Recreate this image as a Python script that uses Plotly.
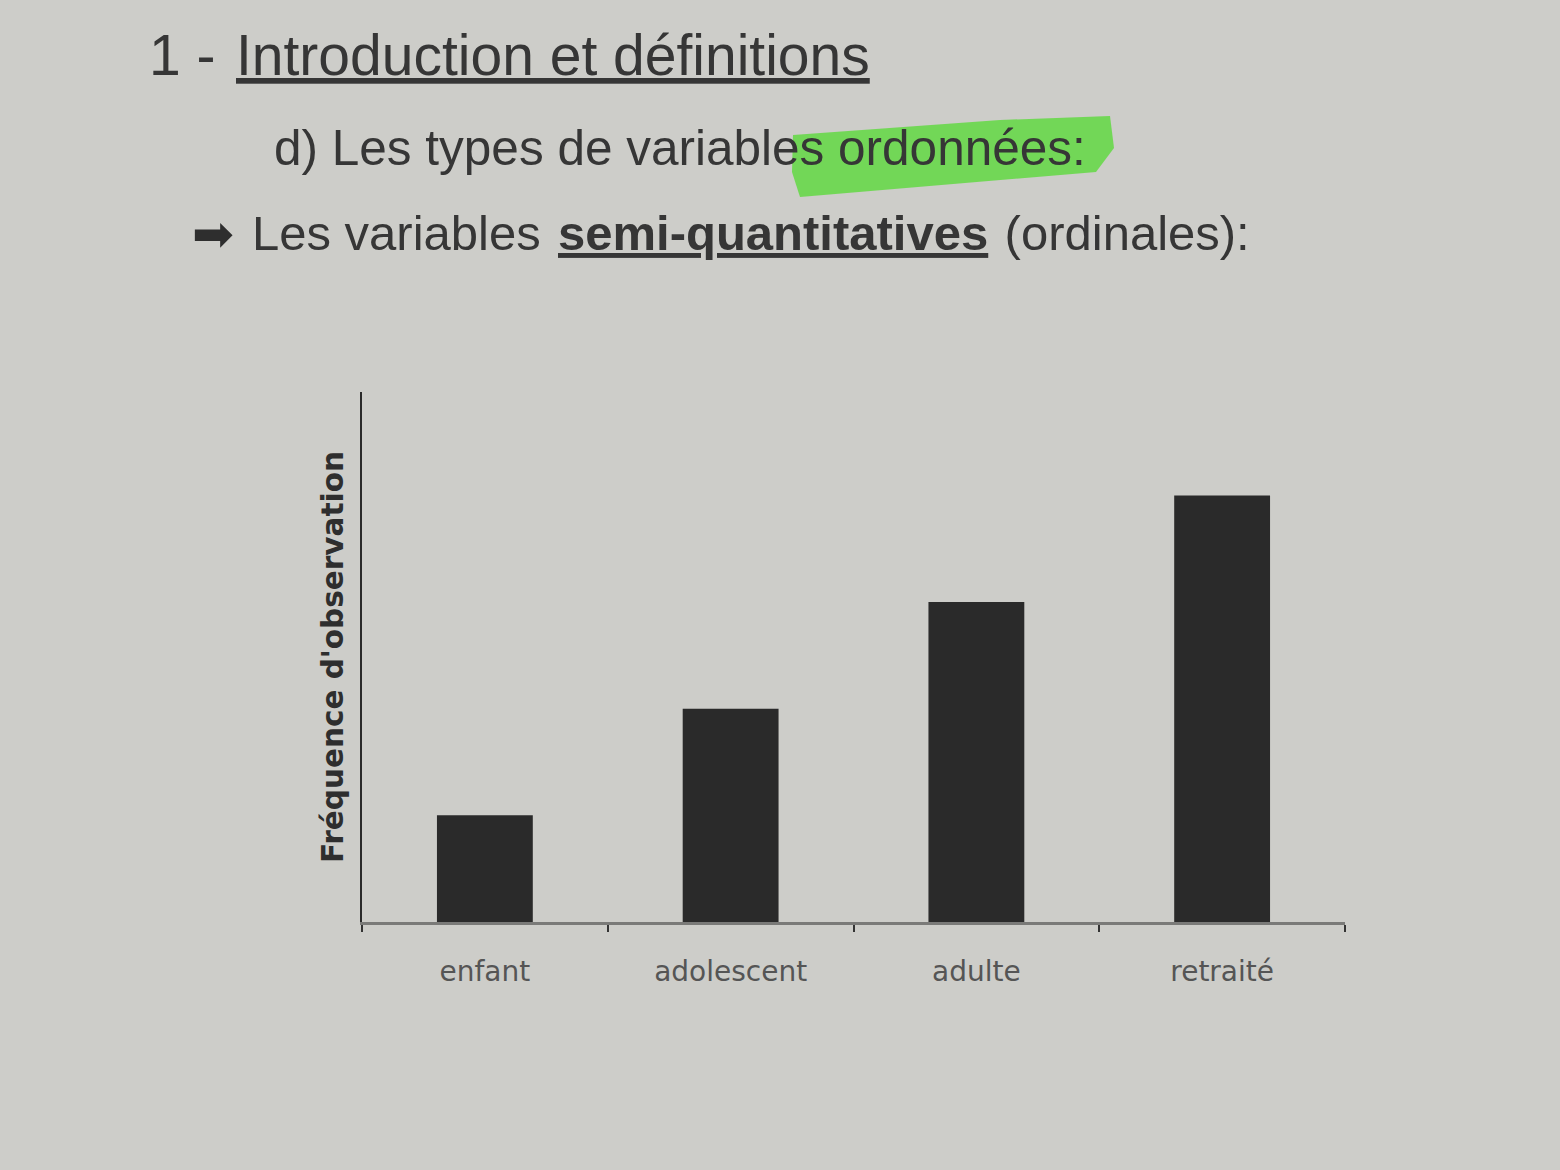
import plotly.graph_objects as go

# ---- data ----
categories = ["enfant", "adolescent", "adulte", "retraité"]
frequencies = [1, 2, 3, 4]
y_title = "Fréquence d'observation"
heading1_num = "1 - "
heading1_txt = "Introduction et définitions"
heading2 = "d) Les types de variables ordonnées:"
line3_a = "Les variables "
line3_b = "semi-quantitatives"
line3_c = " (ordinales):"

W, H = 1560, 1170
L, R, T, B = 362, 215, 392, 248
PW, PH = W - L - R, H - T - B

def px(x):
    return (x - L) / PW

def py(y):
    return (H - B - y) / PH

BG = "#cdcdc9"
TXT = "#363636"

fig = go.Figure()
fig.add_trace(go.Bar(
    x=categories, y=frequencies,
    marker=dict(color="#2a2a2a", line=dict(width=0)),
    width=0.39,
    hoverinfo="x+y",
))

ann = []
# heading line 1
ann.append(dict(x=px(233), y=py(55), xref="paper", yref="paper", text=heading1_num,
                xanchor="right", yanchor="middle", showarrow=False,
                font=dict(family="Liberation Sans, Arial", size=57, color=TXT)))
ann.append(dict(x=px(234), y=py(55), xref="paper", yref="paper", text=heading1_txt,
                xanchor="left", yanchor="middle", showarrow=False,
                font=dict(family="Liberation Sans, Arial", size=57, color=TXT, lineposition="under")))
# heading line 2
ann.append(dict(x=px(272), y=py(147), xref="paper", yref="paper", text=heading2,
                xanchor="left", yanchor="middle", showarrow=False,
                font=dict(family="Liberation Sans, Arial", size=49.5, color=TXT)))
# line 3
ann.append(dict(x=px(213), y=py(234), xref="paper", yref="paper", text="➡",
                xanchor="center", yanchor="middle", showarrow=False,
                font=dict(family="DejaVu Sans", size=50, color="#2e2e2e")))
ann.append(dict(x=px(556), y=py(233), xref="paper", yref="paper", text=line3_a,
                xanchor="right", yanchor="middle", showarrow=False,
                font=dict(family="Liberation Sans, Arial", size=49, color=TXT)))
ann.append(dict(x=px(556), y=py(233), xref="paper", yref="paper", text="<b>" + line3_b + "</b>",
                xanchor="left", yanchor="middle", showarrow=False,
                font=dict(family="Liberation Sans, Arial", size=49, color=TXT, lineposition="under")))
ann.append(dict(x=px(989), y=py(233), xref="paper", yref="paper", text=line3_c,
                xanchor="left", yanchor="middle", showarrow=False,
                font=dict(family="Liberation Sans, Arial", size=49, color=TXT)))

# green highlighter stroke behind "s ordonnées:"
hl = [(793, 135), (1000, 120), (1110, 116), (1114, 148), (1096, 172), (800, 197), (792, 172)]
path = "M " + " L ".join(f"{px(a):.5f},{py(b):.5f}" for a, b in hl) + " Z"

fig.update_layout(
    width=W, height=H,
    margin=dict(l=L, r=R, t=T, b=B),
    paper_bgcolor=BG, plot_bgcolor=BG,
    showlegend=False,
    bargap=0.6,
    annotations=ann,
    shapes=[dict(type="path", path=path, xref="paper", yref="paper",
                 fillcolor="#68d84a", opacity=0.9, line=dict(width=0), layer="below")],
    xaxis=dict(
        type="category",
        showline=True, linecolor="#7a7a78", linewidth=3,
        ticks="outside", tickson="boundaries", ticklen=7, tickwidth=2, tickcolor="#333",
        tickfont=dict(family="DejaVu Sans", size=28, color="#555"),
        ticklabelstandoff=22,
        showgrid=False, zeroline=False,
    ),
    yaxis=dict(
        range=[0, 4.97],
        showline=True, linecolor="#2a2a2a", linewidth=2,
        showticklabels=False, ticks="",
        showgrid=False, zeroline=False,
        title=dict(text="<b>" + y_title + "</b>", standoff=8,
                   font=dict(family="DejaVu Sans", size=29.5, color="#2e2e2e")),
    ),
)

fig.write_html("out.html")
